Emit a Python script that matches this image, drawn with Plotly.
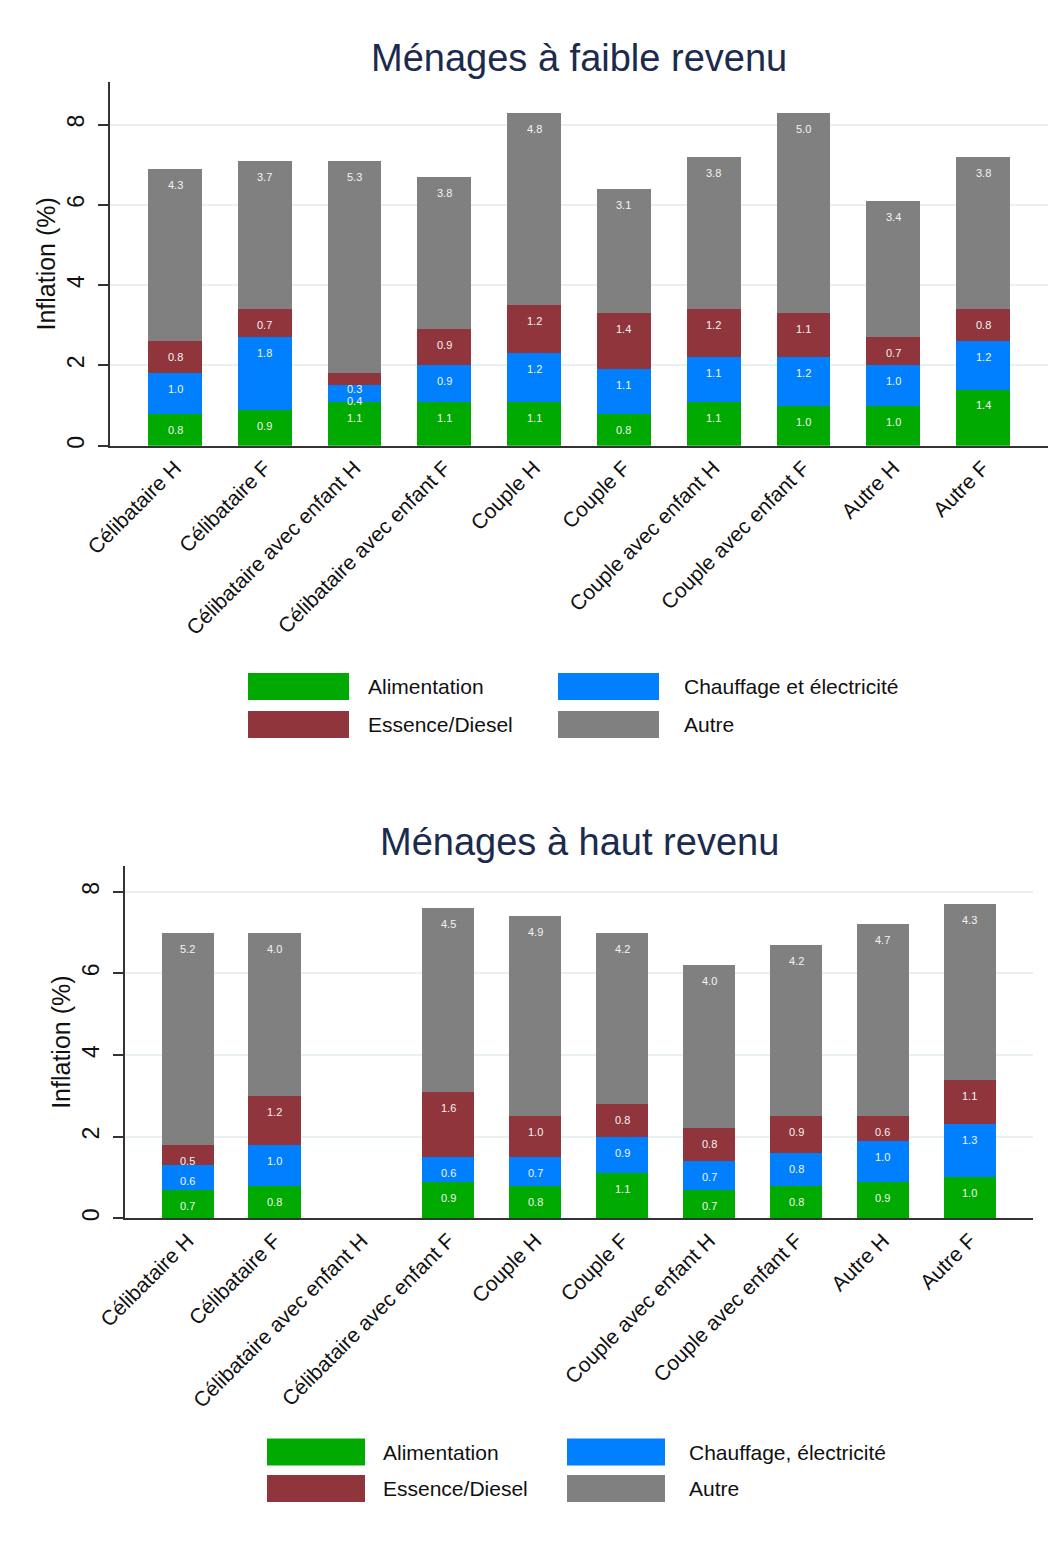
import plotly.graph_objects as go

categories = ["Célibataire H", "Célibataire F", "Célibataire avec enfant H",
              "Célibataire avec enfant F", "Couple H", "Couple F",
              "Couple avec enfant H", "Couple avec enfant F", "Autre H", "Autre F"]

# Ménages à faible revenu
low_alim = [0.8, 0.9, 1.1, 1.1, 1.1, 0.8, 1.1, 1.0, 1.0, 1.4]
low_chauf = [1.0, 1.8, 0.4, 0.9, 1.2, 1.1, 1.1, 1.2, 1.0, 1.2]
low_ess = [0.8, 0.7, 0.3, 0.9, 1.2, 1.4, 1.2, 1.1, 0.7, 0.8]
low_autre = [4.3, 3.7, 5.3, 3.8, 4.8, 3.1, 3.8, 5.0, 3.4, 3.8]

# Ménages à haut revenu
high_alim = [0.7, 0.8, None, 0.9, 0.8, 1.1, 0.7, 0.8, 0.9, 1.0]
high_chauf = [0.6, 1.0, None, 0.6, 0.7, 0.9, 0.7, 0.8, 1.0, 1.3]
high_ess = [0.5, 1.2, None, 1.6, 1.0, 0.8, 0.8, 0.9, 0.6, 1.1]
high_autre = [5.2, 4.0, None, 4.5, 4.9, 4.2, 4.0, 4.2, 4.7, 4.3]

legend_low = ["Alimentation", "Chauffage et électricité", "Essence/Diesel", "Autre"]
legend_high = ["Alimentation", "Chauffage, électricité", "Essence/Diesel", "Autre"]
title_low = "Ménages à faible revenu"
title_high = "Ménages à haut revenu"
y_title = "Inflation (%)"
y_ticks = [0, 2, 4, 6, 8]

colors = ["#00aa00", "#0080ff", "#90353b", "#808080"]

W, H = 1064, 1541
OFF = 8  # page body margin
FONT = "Arial, Liberation Sans, sans-serif"


def px(x):
    return (x - OFF) / W


def py(y):
    return 1 - (y - OFF) / H


fig = go.Figure()
annotations = []
shapes = []

panels = [
    ("x", "y", [low_alim, low_chauf, low_ess, low_autre], legend_low),
    ("x2", "y2", [high_alim, high_chauf, high_ess, high_autre], legend_high),
]

for xa, ya, series, names in panels:
    for vals, name, col in zip(series, names, colors):
        fig.add_trace(go.Bar(
            x=categories, y=vals, name=name, xaxis=xa, yaxis=ya,
            marker=dict(color=col, line=dict(width=0)), width=0.6,
            showlegend=False, hoverinfo="x+y+name"))
    # segment labels
    for i, cat in enumerate(categories):
        cum = 0.0
        for vals in series:
            v = vals[i]
            if v is None:
                continue
            cum += v
            annotations.append(dict(
                x=cat, y=cum, xref=xa, yref=ya, text=f"{v:.1f}",
                showarrow=False, yshift=-16, yanchor="middle",
                font=dict(family=FONT, size=11, color="#f4f4f4")))

axis_common = dict(showline=True, linecolor="#333333", linewidth=1.5, automargin=False)
ytick_common = dict(tickvals=y_ticks, tickangle=-90, ticks="outside", ticklen=10,
                    tickcolor="#333333", tickwidth=1.5, ticklabelstandoff=5,
                    tickfont=dict(size=23, color="#111111"),
                    showgrid=True, gridcolor="#e8f0f2", gridwidth=2, zeroline=False,
                    title=dict(text=y_title, font=dict(size=25, color="#111111"), standoff=0))

fig.update_layout(
    width=W, height=H, margin=dict(l=0, r=0, t=0, b=0, autoexpand=False),
    paper_bgcolor="white", plot_bgcolor="white",
    barmode="stack", bargap=0.4,
    font=dict(family=FONT, color="#111111"),
    xaxis=dict(domain=[px(110), px(1048)], anchor="y", type="category",
               categoryorder="array", categoryarray=categories,
               range=[-0.724, 9.724], tickangle=-45, ticks="",
               tickfont=dict(size=21, color="#111111"), **axis_common),
    yaxis=dict(domain=[py(445.7), py(82)], anchor="x", range=[0, 9.06],
               **ytick_common, **axis_common),
    xaxis2=dict(domain=[px(125), px(1032.5)], anchor="y2", type="category",
                categoryorder="array", categoryarray=categories,
                range=[-0.72, 9.72], tickangle=-45, ticks="",
                tickfont=dict(size=21, color="#111111"), **axis_common),
    yaxis2=dict(domain=[py(1218.3), py(866)], anchor="x2", range=[0, 8.63],
                **ytick_common, **axis_common),
)

# titles
for text, yc in [(title_low, 58), (title_high, 842)]:
    annotations.append(dict(x=px(579), y=py(yc), xref="paper", yref="paper",
                            text=text, showarrow=False, xanchor="center", yanchor="middle",
                            font=dict(family=FONT, size=38, color="#1b2b4d")))

# legends (drawn as swatches + text)
legend_specs = [
    (legend_low, [(248, 349, 366), (558, 659, 682)], [686.5, 724.5]),
    (legend_high, [(267, 365, 381), (567, 665, 687)], [1452, 1488.5]),
]
for names, cols, rows in legend_specs:
    order = [(0, 0, 0), (1, 0, 1), (2, 1, 0), (3, 1, 1)]  # (series idx, row, col)
    for si, r, c in order:
        x0, x1, xt = cols[c]
        yc = rows[r]
        shapes.append(dict(type="rect", xref="paper", yref="paper",
                           x0=px(x0), x1=px(x1), y0=py(yc + 13.5), y1=py(yc - 13.5),
                           fillcolor=colors[si], line=dict(width=0)))
        annotations.append(dict(x=px(xt), y=py(yc), xref="paper", yref="paper",
                                text=names[si], showarrow=False, xanchor="left",
                                yanchor="middle",
                                font=dict(family=FONT, size=21, color="#111111")))

fig.update_layout(annotations=annotations, shapes=shapes)
fig.write_html("out.html")
